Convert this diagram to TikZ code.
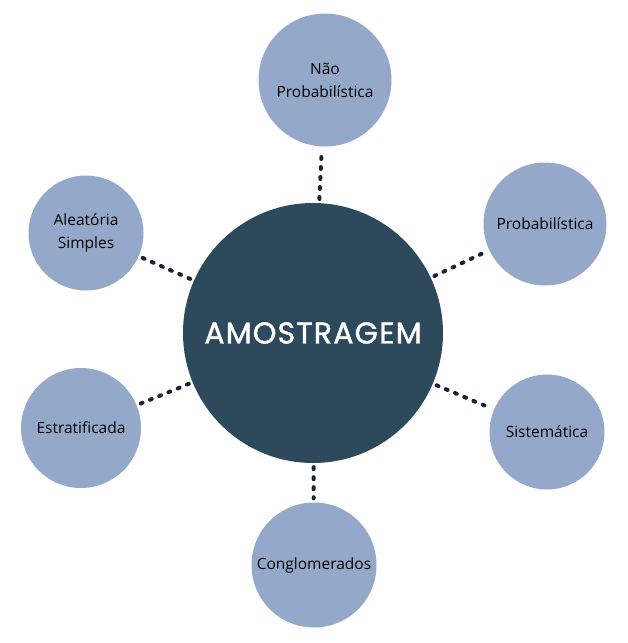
\documentclass[tikz,border=0pt]{standalone}
\usepackage{fontspec}
\setmainfont{Open Sans}
\newfontfamily\titlefont[FakeBold=1.4,LetterSpace=4]{Poppins}
\usepackage{xcolor}
\definecolor{mainblue}{HTML}{2C4A5C}
\definecolor{softblue}{HTML}{94A9C9}
\definecolor{dotnavy}{HTML}{1B2238}
\begin{document}
\begin{tikzpicture}[x=1pt,y=-1pt,
		center/.style={circle, fill=mainblue, text=white, minimum size=260pt, inner sep=0pt, font=\titlefont\fontsize{30}{32}\selectfont},
		branch/.style={circle, fill=softblue, text=black, inner sep=0pt, align=center, font=\fontsize{15.5}{23}\selectfont},
		link/.style={draw=dotnavy, line width=4pt, line cap=round, dash pattern=on 2pt off 8pt, shorten <=4pt, shorten >=4pt}]
		\useasboundingbox (0,0) rectangle (628,643);
		\node[center] (amostra) at (313,333) {AMOSTRAGEM};
		\node[branch, minimum size=133pt] (naoprob) at (325,80) {Não\\Probabilística};
		\node[branch, minimum size=123pt] (prob) at (545,224) {Probabilística};
		\node[branch, minimum size=115pt] (sist) at (547,432) {Sistemática};
		\node[branch, minimum size=125pt] (congl) at (314,565) {Conglomerados};
		\node[branch, minimum size=120pt] (estrat) at (81,428) {Estratificada};
		\node[branch, minimum size=115pt] (aleat) at (86,233) {Aleatória\\Simples};
		\foreach \sat in {naoprob,prob,sist,congl,estrat,aleat}
		\draw[link] (amostra) -- (\sat);
	\end{tikzpicture}
\end{document}
